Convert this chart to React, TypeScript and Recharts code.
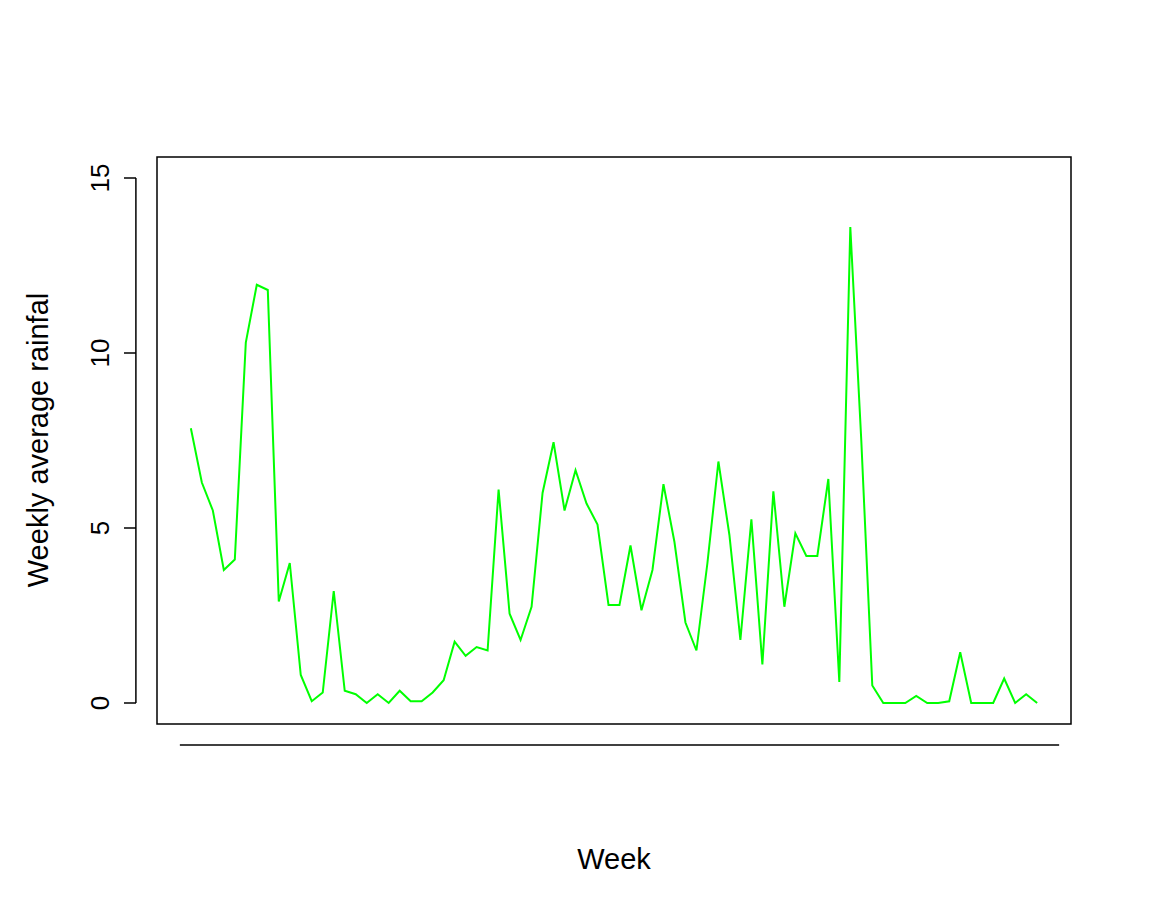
import React from "react";
import { LineChart, Line, XAxis, YAxis, ReferenceLine, ReferenceArea } from "recharts";

const weeks = Array.from({ length: 78 }, (_, i) => i + 1);
const rainfall = [
  7.85, 6.3, 5.5, 3.8, 4.1, 10.3, 11.95, 11.8, 2.9, 4.0,
  0.8, 0.05, 0.3, 3.2, 0.35, 0.25, 0.0, 0.25, 0.0, 0.35,
  0.05, 0.05, 0.3, 0.65, 1.75, 1.35, 1.6, 1.5, 6.1, 2.55,
  1.8, 2.75, 6.0, 7.45, 5.5, 6.65, 5.7, 5.1, 2.8, 2.8,
  4.5, 2.65, 3.8, 6.25, 4.6, 2.3, 1.5, 4.0, 6.9, 4.8,
  1.8, 5.25, 1.1, 6.05, 2.75, 4.85, 4.2, 4.2, 6.4, 0.6,
  13.6, 7.5, 0.5, 0, 0, 0, 0.2, 0, 0, 0.05,
  1.45, 0, 0, 0, 0.7, 0, 0.25, 0,
];
const xTicks = [0, 20, 40, 60, 80];
const yTicks = [0, 5, 10, 15];

const data = weeks.map((w, i) => ({ week: w, rain: rainfall[i] }));
const font = "'Liberation Sans', Arial, sans-serif";

const XTick = (props: any) => {
  const { x, y, payload } = props;
  return (
    <g>
      <line x1={x} x2={x} y1={y + 21} y2={y + 33} stroke="#000" strokeWidth={1.5} />
      <text x={x} y={y + 70} textAnchor="middle" fontSize={26} fontFamily={font} fill="#000">
        {payload.value}
      </text>
    </g>
  );
};

const YTick = (props: any) => {
  const { y, payload } = props;
  const x = 157;
  return (
    <g>
      <line x1={x - 21} x2={x - 33} y1={y} y2={y} stroke="#000" strokeWidth={1.5} />
      <text
        x={x - 48}
        y={y}
        transform={`rotate(-90 ${x - 48} ${y})`}
        textAnchor="middle"
        fontSize={26}
        fontFamily={font}
        fill="#000"
      >
        {payload.value}
      </text>
    </g>
  );
};

export default function App() {
  return (
    <div style={{ position: "absolute", left: 0, top: 0, width: 1152, height: 921, background: "#fff" }}>
      <LineChart width={1152} height={921} data={data} margin={{ top: 157, right: 81, bottom: 197, left: 97 }}>
        <XAxis
          dataKey="week"
          type="number"
          domain={[-2.08, 81.08]}
          ticks={xTicks}
          axisLine={false}
          tickLine={false}
          tickSize={0}
          tick={<XTick />}
          height={0}
          interval={0}
          allowDataOverflow
        />
        <YAxis
          type="number"
          domain={[-0.6, 15.6]}
          ticks={yTicks}
          axisLine={false}
          tickLine={false}
          tickSize={0}
          tickMargin={0}
          tick={<YTick />}
          width={60}
          interval={0}
          allowDataOverflow
        />
        <ReferenceArea x1={-2.08} x2={81.08} y1={-0.6} y2={15.6} fill="none" stroke="#000" strokeWidth={1.5} ifOverflow="visible" />
        <ReferenceLine segment={[{ x: 0, y: -1.2 }, { x: 80, y: -1.2 }]} stroke="#000" strokeWidth={1.5} ifOverflow="visible" />
        <ReferenceLine segment={[{ x: -4, y: 0 }, { x: -4, y: 15 }]} stroke="#000" strokeWidth={1.5} ifOverflow="visible" />
        <Line dataKey="rain" stroke="#00ff00" strokeWidth={2} dot={false} isAnimationActive={false} />
      </LineChart>
      <div style={{ position: "absolute", left: 0, width: 1228, top: 843, textAlign: "center", fontFamily: font, fontSize: 29 }}>
        Week
      </div>
      <div
        style={{
          position: "absolute",
          left: 38,
          top: 440,
          transform: "translate(-50%, -50%) rotate(-90deg)",
          whiteSpace: "nowrap",
          fontFamily: font,
          fontSize: 29,
        }}
      >
        Weekly average rainfal
      </div>
    </div>
  );
}
